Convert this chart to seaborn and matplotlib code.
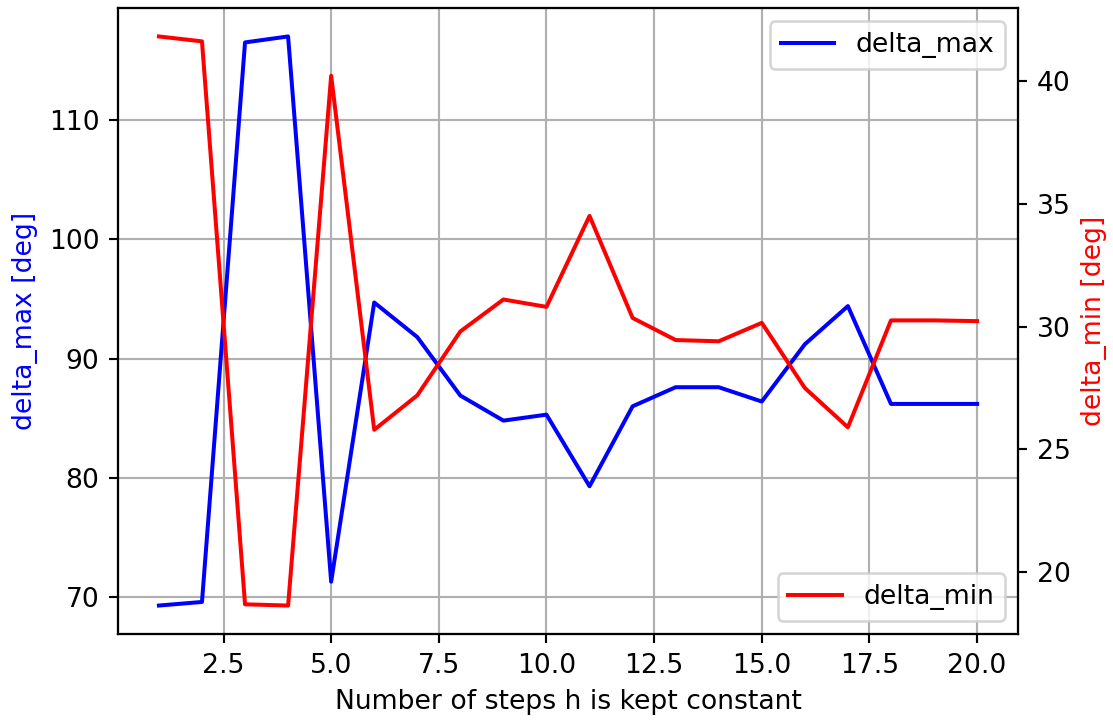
import matplotlib
matplotlib.use("Agg")
import matplotlib.pyplot as plt
import seaborn as sns
import pandas as pd

# Number of steps h is kept constant
steps = list(range(1, 21))

# Maximum and minimum angle over the run [deg]
delta_max = [69.3, 69.6, 116.5, 117.0, 71.3, 94.7, 91.8, 86.9, 84.8, 85.3,
             79.3, 86.0, 87.6, 87.6, 86.4, 91.2, 94.4, 86.2, 86.2, 86.2]
delta_min = [41.8, 41.6, 18.7, 18.65, 40.2, 25.8, 27.2, 29.8, 31.1, 30.8,
             34.5, 30.35, 29.45, 29.4, 30.15, 27.5, 25.9, 30.25, 30.25, 30.22]

df = pd.DataFrame({"steps": steps, "delta_max": delta_max, "delta_min": delta_min})

dpi = 192
fig = plt.figure(figsize=(1113 / dpi, 722 / dpi), dpi=dpi)
ax1 = fig.add_axes([118 / 1113, 1 - 634 / 722, 900 / 1113, 626 / 722])

sns.lineplot(data=df, x="steps", y="delta_max", color="blue", linewidth=1.5,
             label="delta_max", ax=ax1)
ax1.set_xlabel("Number of steps h is kept constant")
ax1.set_ylabel("delta_max [deg]", color="blue")
ax1.grid(True, color="#b0b0b0", linewidth=0.8)
ax1.legend(loc="upper right")

ax2 = ax1.twinx()
sns.lineplot(data=df, x="steps", y="delta_min", color="red", linewidth=1.5,
             label="delta_min", ax=ax2)
ax2.set_ylabel("delta_min [deg]", color="red")
ax2.legend(loc="lower right")

fig.savefig("out.png", dpi=dpi)
